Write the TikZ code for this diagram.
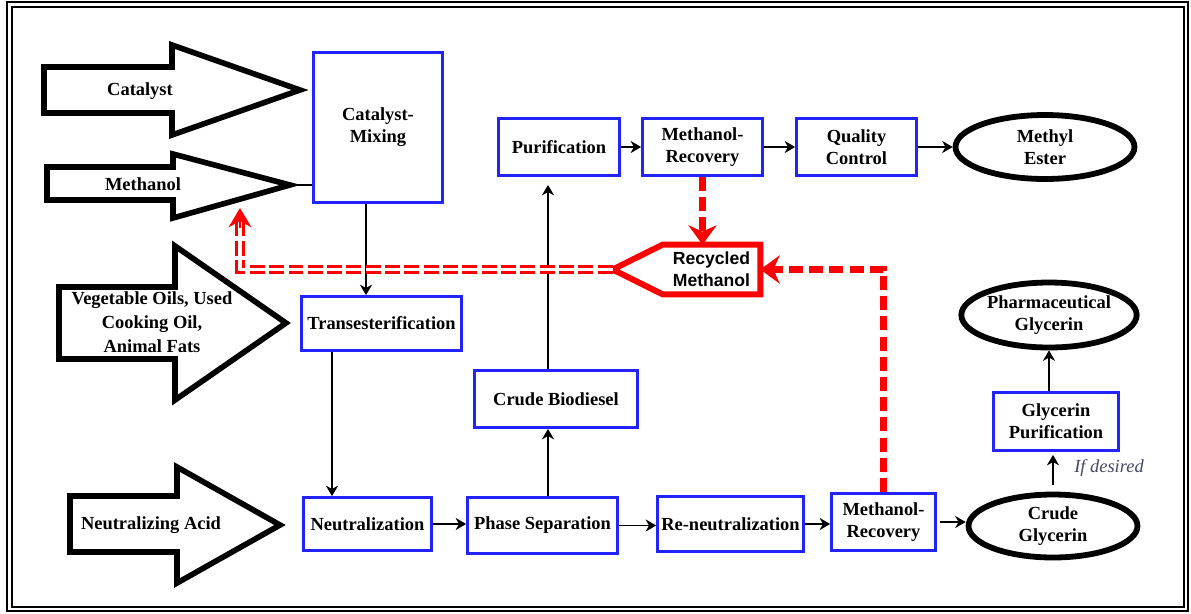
\documentclass[tikz,border=0pt]{standalone}
\usepackage{fontspec}
\setmainfont{Liberation Serif}
\newfontfamily\recfont{Liberation Sans}
\usepackage{xcolor}
\usepackage{tikz}
\usetikzlibrary{positioning,arrows.meta,shapes,calc}
\definecolor{procblue}{RGB}{35,35,255}
\definecolor{notegray}{RGB}{70,70,105}

\begin{document}
\begin{tikzpicture}[x=0.02cm, y=-0.02cm,
  every node/.style={font=\fontsize{10.5}{12.5}\selectfont\bfseries, align=center, inner sep=0pt},
  box/.style={rectangle, draw=procblue, line width=1.6pt},
  product/.style={ellipse, draw, line width=3.3pt},
  feed/.style={draw, line width=3.2pt, line join=miter},
  arr/.style={-{Stealth[length=6pt,width=7pt]}, line width=0.6pt},
  recyc/.style={draw=red, line width=3.5pt, dash pattern=on 8pt off 3.5pt, -{Stealth[length=11pt,width=16pt]}},
  backflow/.style={draw=red, double=white, line width=1.7pt, double distance=2pt, dash pattern=on 8.5pt off 2.5pt, shorten >=8pt},
  backtip/.style={draw=red, line width=1pt, -{Stealth[length=11pt,width=13pt]}}]

  % frame
  \useasboundingbox (0,0) rectangle (1191,613);
  \draw[line width=1.4pt] (7,2) rectangle (1188,611);
  \draw[line width=0.6pt] (12,7) rectangle (1184,607);

  % feed arrows
  \coordinate (methtip) at (290,185);
  \draw[feed] (44,67) -- (172,67) -- (172,45) -- (300,90) -- (172,135) -- (172,113) -- (44,113) -- cycle;
  \draw[feed] (47,167) -- (173,167) -- (173,154) -- (methtip) -- (173,218) -- (173,200) -- (47,200) -- cycle;
  \draw[feed] (59,287) -- (175,287) -- (175,246) -- (286,323) -- (175,400) -- (175,359) -- (59,359) -- cycle;
  \draw[feed] (70,496) -- (177,496) -- (177,467) -- (280,525) -- (177,583) -- (177,552) -- (70,552) -- cycle;
  \node (cat) at (140,91) {Catalyst};
  \node (meth) at (143,184) {Methanol};
  \node[font=\fontsize{10.5}{13.5}\selectfont\bfseries] (oil) at (152,322) {Vegetable Oils, Used\\Cooking Oil,\\Animal Fats};
  \node (acid) at (151,525) {Neutralizing Acid};

  % process steps
  \node[box, minimum width=2.58cm, minimum height=3cm] (mix) at (378,127.5) {Catalyst-\\Mixing};
  \node[box, minimum width=3.2cm, minimum height=1.08cm] (trans) at (381.5,323.5) {Transesterification};
  \node[box, minimum width=2.56cm, minimum height=1.06cm] (neut) at (367.5,524) {Neutralization};
  \node[box, minimum width=3cm, minimum height=1.12cm] (ps) at (542.5,525.5) {Phase Separation};
  \node[box, minimum width=3.26cm, minimum height=1.14cm] (cb) at (556,399) {Crude Biodiesel};
  \node[box, minimum width=2.42cm, minimum height=1.14cm] (pur) at (559,147) {Purification};
  \node[box, minimum width=2.4cm, minimum height=1.14cm] (mr1) at (702.5,147) {Methanol-\\Recovery};
  \node[box, minimum width=2.4cm, minimum height=1.14cm] (qc) at (856.5,147) {Quality\\Control};
  \node[box, minimum width=2.92cm, minimum height=1.1cm] (ren) at (730.5,524) {Re-neutralization};
  \node[box, minimum width=2.08cm, minimum height=1.14cm] (mr2) at (883.5,522) {Methanol-\\Recovery};
  \node[box, minimum width=2.5cm, minimum height=1.16cm] (gp) at (1056,421.5) {Glycerin\\Purification};

  % products
  \node[product, minimum width=3.58cm, minimum height=1.28cm] (ester) at (1045,147) {Methyl\\Ester};
  \node[product, minimum width=3.34cm, minimum height=1.3cm] (pharm) at (1049,315) {Pharmaceutical\\Glycerin};
  \node[product, minimum width=3.38cm, minimum height=1.26cm] (crude) at (1053,526) {Crude\\Glycerin};

  % recycled methanol
  \node[minimum width=1.94cm, minimum height=0.98cm, font=\fontsize{10}{12.5}\selectfont\recfont\bfseries] (rec) at (711.5,269.5) {Recycled\\Methanol};
  \coordinate (rectip) at ($(rec.west)+(-50,0)$);
  \draw[red, line width=3.4pt, line join=miter] (rec.north east) -- (rec.south east) -- (rec.south west) -- (rectip) -- (rec.north west) -- cycle;

  % flows
  \draw[line width=0.6pt] (methtip) -- (methtip -| mix.west);
  \coordinate (mixout) at ([xshift=-0.24cm]mix.south);
  \draw[arr] (mixout) -- (mixout |- trans.north);
  \coordinate (transout) at ([xshift=-0.99cm]trans.south);
  \draw[arr] (transout) -- (transout |- neut.north);
  \draw[arr] (neut.east) -- (neut.east -| ps.west);
  \coordinate (psout) at ([xshift=0.11cm]ps.north);
  \draw[arr] (psout) -- (psout |- cb.south);
  \draw[arr, shorten >=0.16cm] (psout |- cb.north) -- (psout |- pur.south);
  \draw[arr] (pur.east) -- (mr1.west);
  \draw[arr] (mr1.east) -- (qc.west);
  \draw[arr] (qc.east) -- (ester.west);
  \draw[arr] (ps.east) -- (ps.east -| ren.west);
  \draw[arr] (ren.east) -- (ren.east -| mr2.west);
  \draw[arr, shorten <=0.06cm] (mr2.east) -- (mr2.east -| crude.west);
  \draw[arr, shorten <=0.14cm, shorten >=0.06cm] (crude.north) -- (crude.north |- gp.south);
  \node[font=\fontsize{10.5}{12}\selectfont\itshape, text=notegray] (note) at (1109,468) {If desired};
  \draw[arr] (gp.north -| pharm.south) -- (pharm.south);

  % methanol recycle
  \draw[recyc] (mr1.south) -- (mr1.south |- rec.north);
  \draw[recyc] (mr2.north) |- (rec.east);
  \coordinate (methin) at (240,208);
  \draw[backflow] (rectip) -| (methin);
  \draw[backtip] ([yshift=-0.4cm]methin) -- (methin);
\end{tikzpicture}
\end{document}
